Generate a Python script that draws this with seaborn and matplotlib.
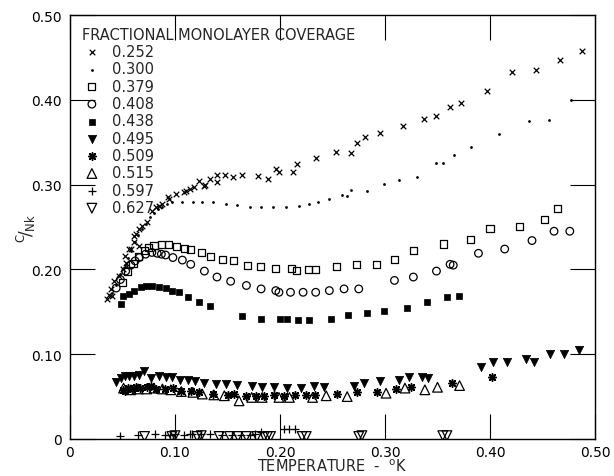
import matplotlib
matplotlib.use("Agg")
import matplotlib.pyplot as plt
import seaborn as sns

# ---------------- data ----------------
coverages = ["0.252", "0.300", "0.379", "0.408", "0.438",
             "0.495", "0.509", "0.515", "0.597", "0.627"]

t_0252 = [0.035, 0.037, 0.040, 0.039, 0.042, 0.047, 0.050, 0.052, 0.053, 0.056, 0.058, 0.061,
          0.061, 0.063, 0.066, 0.066, 0.069, 0.073, 0.078, 0.082, 0.085, 0.088, 0.093, 0.094,
          0.101, 0.109, 0.110, 0.114, 0.118, 0.123, 0.128, 0.129, 0.133, 0.140, 0.140, 0.148,
          0.155, 0.164, 0.179, 0.189, 0.196, 0.199, 0.212, 0.216, 0.234, 0.253, 0.268, 0.273,
          0.281, 0.295, 0.317, 0.337, 0.349, 0.362, 0.372, 0.397, 0.421, 0.444, 0.467, 0.488]
c_0252 = [0.165, 0.170, 0.169, 0.177, 0.186, 0.192, 0.200, 0.216, 0.208, 0.224, 0.224, 0.232,
          0.239, 0.242, 0.228, 0.248, 0.251, 0.256, 0.269, 0.273, 0.275, 0.277, 0.285, 0.283,
          0.289, 0.291, 0.293, 0.295, 0.297, 0.304, 0.298, 0.299, 0.307, 0.303, 0.311, 0.311,
          0.309, 0.311, 0.310, 0.307, 0.318, 0.315, 0.315, 0.324, 0.331, 0.338, 0.337, 0.349,
          0.356, 0.361, 0.369, 0.377, 0.381, 0.391, 0.396, 0.410, 0.433, 0.435, 0.447, 0.458]

t_0300 = [0.040, 0.044, 0.048, 0.052, 0.055, 0.058, 0.062, 0.065, 0.069, 0.072, 0.076, 0.080,
          0.084, 0.088, 0.092, 0.097, 0.107, 0.117, 0.126, 0.136, 0.149, 0.159, 0.171, 0.182,
          0.193, 0.206, 0.218, 0.228, 0.236, 0.247, 0.259, 0.264, 0.268, 0.283, 0.299, 0.313,
          0.330, 0.349, 0.355, 0.366, 0.382, 0.409, 0.437, 0.456, 0.477]
c_0300 = [0.172, 0.182, 0.195, 0.205, 0.214, 0.222, 0.232, 0.240, 0.248, 0.254, 0.262, 0.266,
          0.271, 0.274, 0.277, 0.279, 0.280, 0.280, 0.280, 0.279, 0.277, 0.276, 0.274, 0.274,
          0.274, 0.274, 0.275, 0.277, 0.280, 0.283, 0.288, 0.287, 0.294, 0.293, 0.301, 0.305,
          0.309, 0.325, 0.325, 0.335, 0.344, 0.360, 0.375, 0.376, 0.400]

t_0379 = [0.050, 0.055, 0.060, 0.065, 0.071, 0.075, 0.080, 0.087, 0.094, 0.101, 0.109, 0.115,
          0.125, 0.134, 0.145, 0.156, 0.169, 0.181, 0.196, 0.211, 0.216, 0.227, 0.234, 0.254,
          0.273, 0.292, 0.309, 0.327, 0.356, 0.381, 0.400, 0.428, 0.452, 0.464]
c_0379 = [0.185, 0.197, 0.207, 0.215, 0.222, 0.226, 0.228, 0.229, 0.229, 0.227, 0.225, 0.224,
          0.220, 0.215, 0.212, 0.210, 0.205, 0.203, 0.201, 0.201, 0.199, 0.200, 0.200, 0.203,
          0.206, 0.206, 0.212, 0.222, 0.230, 0.235, 0.248, 0.251, 0.259, 0.272]

t_0408 = [0.044, 0.048, 0.053, 0.058, 0.062, 0.066, 0.072, 0.078, 0.083, 0.087, 0.091, 0.098,
          0.107, 0.115, 0.128, 0.140, 0.153, 0.168, 0.182, 0.196, 0.199, 0.210, 0.222, 0.234,
          0.247, 0.261, 0.275, 0.309, 0.327, 0.349, 0.362, 0.365, 0.389, 0.414, 0.440, 0.461,
          0.476]
c_0408 = [0.178, 0.188, 0.198, 0.205, 0.210, 0.214, 0.218, 0.220, 0.219, 0.218, 0.217, 0.214,
          0.211, 0.206, 0.198, 0.191, 0.186, 0.181, 0.177, 0.175, 0.173, 0.173, 0.173, 0.173,
          0.175, 0.177, 0.177, 0.187, 0.191, 0.198, 0.206, 0.205, 0.219, 0.224, 0.234, 0.245,
          0.245]

t_0438 = [0.049, 0.050, 0.056, 0.061, 0.068, 0.072, 0.078, 0.085, 0.091, 0.097, 0.104, 0.112,
          0.123, 0.133, 0.164, 0.182, 0.200, 0.207, 0.217, 0.228, 0.249, 0.265, 0.283, 0.299,
          0.321, 0.340, 0.359, 0.370]
c_0438 = [0.159, 0.169, 0.171, 0.175, 0.179, 0.181, 0.180, 0.179, 0.178, 0.175, 0.173, 0.168,
          0.161, 0.157, 0.145, 0.142, 0.141, 0.141, 0.140, 0.140, 0.142, 0.146, 0.149, 0.151,
          0.154, 0.162, 0.167, 0.169]

t_0495 = [0.044, 0.049, 0.052, 0.056, 0.061, 0.066, 0.070, 0.077, 0.085, 0.091, 0.097, 0.105,
          0.112, 0.119, 0.128, 0.139, 0.149, 0.159, 0.173, 0.183, 0.194, 0.207, 0.220, 0.232,
          0.242, 0.270, 0.280, 0.295, 0.313, 0.323, 0.335, 0.341, 0.391, 0.403, 0.416, 0.434,
          0.442, 0.457, 0.470, 0.485]
c_0495 = [0.067, 0.072, 0.074, 0.074, 0.074, 0.075, 0.080, 0.072, 0.074, 0.073, 0.073, 0.070,
          0.070, 0.068, 0.066, 0.065, 0.065, 0.064, 0.063, 0.061, 0.061, 0.060, 0.060, 0.063,
          0.061, 0.063, 0.066, 0.068, 0.070, 0.073, 0.073, 0.072, 0.085, 0.091, 0.091, 0.094,
          0.091, 0.100, 0.100, 0.105]

t_0509 = [0.050, 0.052, 0.055, 0.059, 0.063, 0.067, 0.073, 0.077, 0.082, 0.090, 0.098, 0.106,
          0.115, 0.123, 0.136, 0.150, 0.156, 0.168, 0.177, 0.185, 0.194, 0.204, 0.214, 0.225,
          0.233, 0.254, 0.273, 0.292, 0.310, 0.325, 0.364, 0.402]
c_0509 = [0.058, 0.057, 0.060, 0.059, 0.061, 0.060, 0.061, 0.062, 0.059, 0.059, 0.060, 0.057,
          0.057, 0.055, 0.053, 0.052, 0.053, 0.051, 0.051, 0.051, 0.052, 0.051, 0.052, 0.052,
          0.052, 0.053, 0.056, 0.056, 0.059, 0.061, 0.066, 0.073]

t_0515 = [0.051, 0.058, 0.065, 0.073, 0.080, 0.088, 0.096, 0.106, 0.117, 0.126, 0.137, 0.147,
          0.161, 0.173, 0.183, 0.199, 0.209, 0.231, 0.244, 0.264, 0.301, 0.319, 0.338, 0.350,
          0.371]
c_0515 = [0.060, 0.058, 0.059, 0.059, 0.060, 0.059, 0.058, 0.056, 0.055, 0.053, 0.052, 0.051,
          0.045, 0.049, 0.049, 0.049, 0.049, 0.049, 0.051, 0.050, 0.054, 0.060, 0.058, 0.061,
          0.063]

t_0597 = [0.048, 0.065, 0.081, 0.090, 0.095, 0.100, 0.109, 0.114, 0.116, 0.125, 0.133, 0.145,
          0.154, 0.163, 0.171, 0.176, 0.182, 0.204, 0.209, 0.214]
c_0597 = [0.004, 0.005, 0.006, 0.005, 0.005, 0.006, 0.005, 0.006, 0.006, 0.006, 0.006, 0.005,
          0.005, 0.005, 0.005, 0.006, 0.008, 0.012, 0.012, 0.012]

t_0627 = [0.071, 0.097, 0.100, 0.121, 0.125, 0.142, 0.152, 0.160, 0.168, 0.178, 0.185, 0.188,
          0.191, 0.221, 0.225, 0.275, 0.278, 0.355, 0.359]
c_0627 = [0.003, 0.003, 0.004, 0.003, 0.004, 0.003, 0.003, 0.003, 0.003, 0.003, 0.003, 0.003,
          0.003, 0.003, 0.003, 0.003, 0.004, 0.004, 0.004]

x_ticks = [0.0, 0.1, 0.2, 0.3, 0.4, 0.5]
x_ticklabels = ["0", "0.10", "0.20", "0.30", "0.40", "0.50"]
y_ticks = [0.0, 0.1, 0.2, 0.3, 0.4, 0.5]
y_ticklabels = ["0", "0.10", "0.20", "0.30", "0.40", "0.50"]

series_t = [t_0252, t_0300, t_0379, t_0408, t_0438, t_0495, t_0509, t_0515, t_0597, t_0627]
series_c = [c_0252, c_0300, c_0379, c_0408, c_0438, c_0495, c_0509, c_0515, c_0597, c_0627]

# ---------------- styling ----------------
sns.set_theme(style="ticks")
plt.rcParams["font.family"] = ["DejaVu Sans"]
plt.rcParams["mathtext.fontset"] = "dejavusans"

styles = [
    dict(marker="x", s=16, color="black", linewidths=0.9),
    dict(marker="o", s=4, color="black", linewidths=0),
    dict(marker="s", s=26, facecolor="none", edgecolor="black", linewidths=0.9),
    dict(marker="o", s=30, facecolor="none", edgecolor="black", linewidths=0.9),
    dict(marker="s", s=24, color="black", edgecolor="black", linewidths=0.5),
    dict(marker="v", s=36, color="black", edgecolor="black", linewidths=0.5),
    dict(marker=(8, 2, 0), s=30, color="black", linewidths=1.1),
    dict(marker="^", s=48, facecolor="none", edgecolor="black", linewidths=0.9),
    dict(marker="+", s=26, color="black", linewidths=0.9),
    dict(marker="v", s=48, facecolor="none", edgecolor="black", linewidths=0.9),
]

fig = plt.figure(figsize=(6.14, 4.77), dpi=100)
ax = fig.add_axes([70 / 614, 1 - 440 / 477, 525 / 614, 424 / 477])

for lab, t, c, st in zip(coverages, series_t, series_c, styles):
    sns.scatterplot(x=t, y=c, ax=ax, label=lab, **st)

ax.set_xlim(0, 0.5)
ax.set_ylim(0, 0.5)
ax.set_xticks(x_ticks)
ax.set_xticklabels(x_ticklabels)
ax.set_yticks(y_ticks)
ax.set_yticklabels(y_ticklabels)
ax.tick_params(direction="in", length=18, width=0.8, top=True, right=True,
               labelsize=10, colors="black")
ax.tick_params(axis="x", pad=4)
ax.tick_params(axis="y", pad=6)
for sp in ax.spines.values():
    sp.set_color("black")
    sp.set_linewidth(1.0)

ax.set_xlabel(r"TEMPERATURE  -  $^{\rm o}$K", fontsize=10.5, labelpad=-1)
ax.set_ylabel(r"$^{\rm C}\!/_{\rm Nk}$", fontsize=12, labelpad=-5)

leg = ax.legend(loc="upper left", bbox_to_anchor=(0.0, 1.0), frameon=False,
                title="FRACTIONAL MONOLAYER COVERAGE", title_fontsize=10.5,
                fontsize=10.5, alignment="left", handlelength=1.4,
                handletextpad=0.7, labelspacing=0.16, borderaxespad=0.5,
                borderpad=0.3, markerscale=1.0)

fig.savefig("out.png", dpi=100)
